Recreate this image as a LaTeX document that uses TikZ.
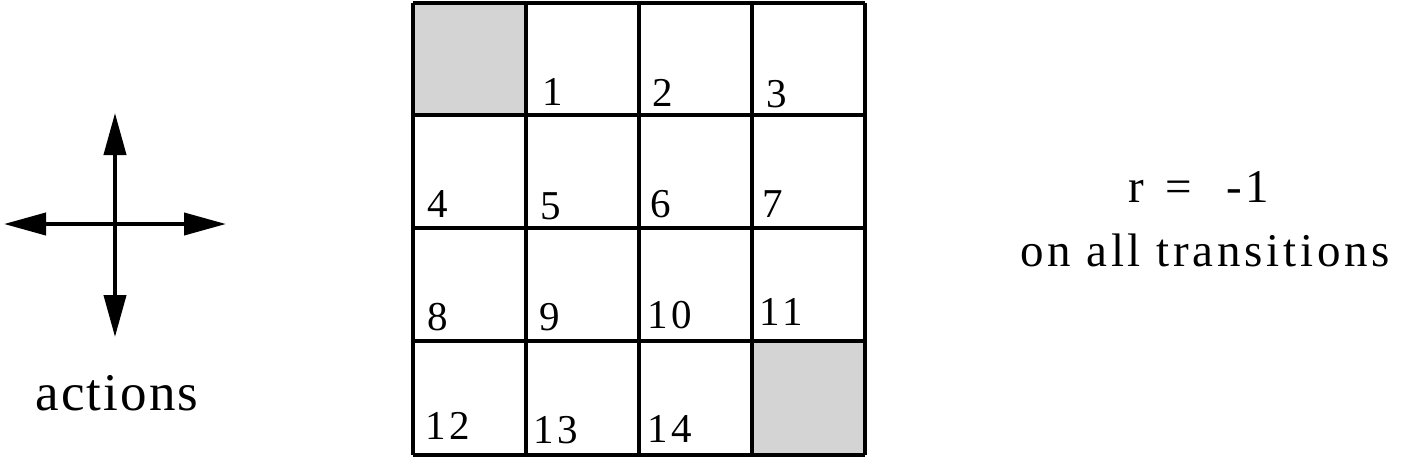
\documentclass[tikz,border=0pt]{standalone}
\usepackage{fontspec}
\setmainfont{Liberation Serif}
\usetikzlibrary{arrows.meta}
\definecolor{cellgray}{RGB}{212,212,212}
\tikzset{
  gridline/.style={line width=3.6pt, black},
  actarrow/.style={line width=4pt, -{Triangle[length=42pt, width=22pt]}},
  cellnum/.style={anchor=base west, inner sep=0pt, font=\fontsize{41}{41}\selectfont\addfontfeatures{LetterSpace=10}},
  bigtext/.style={anchor=base, inner sep=0pt, font=\fontsize{47}{47}\selectfont\addfontfeatures{LetterSpace=8}}
}
\begin{document}
\begin{tikzpicture}[x=1pt, y=-1pt]
			\useasboundingbox (0,0) rectangle (1423,472);
			% actions cross
			\coordinate (ctr) at (115,224);
			\coordinate (up) at (115,113);
			\coordinate (down) at (115,337);
			\coordinate (left) at (4,224);
			\coordinate (right) at (226,224);
			\draw [actarrow] (ctr) -- (up);
			\draw [actarrow] (ctr) -- (down);
			\draw [actarrow] (ctr) -- (left);
			\draw [actarrow] (ctr) -- (right);
			\node[bigtext, font=\fontsize{53}{53}\selectfont\addfontfeatures{LetterSpace=4}] (actlbl) at (117,410) {actions};
			% grid world
			\fill [cellgray] (413,3) rectangle (526,115);
			\fill [cellgray] (752,341) rectangle (865,455);
			\foreach \x in {413,526,639,752,865}
				\draw [gridline] (\x,3) -- (\x,455);
			\foreach \y in {3,115,228,341,455}
				\draw [gridline] (413,\y) -- (865,\y);
			\foreach \n/\x/\y in {1/542/105, 2/652/106, 3/766/107,
				4/427/217, 5/540/219, 6/650/217, 7/762/217,
				8/427/330, 9/539/330, 10/647/328, 11/759/325,
				12/425/439, 13/533/443, 14/647/442}
				\node[cellnum] (s\n) at (\x,\y) {\n};
			% reward
			\node[bigtext] (rlbl) at (1199,202) {r\hspace{21pt}=\hspace{34pt}-1};
			\node[bigtext] (translbl) at (1205,266) {on all transitions};
\end{tikzpicture}
\end{document}
